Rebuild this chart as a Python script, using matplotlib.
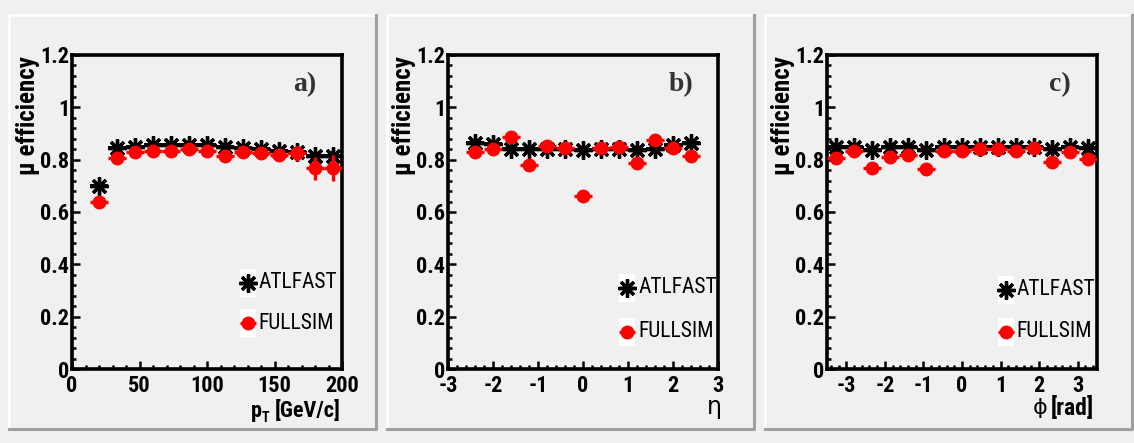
"""Muon efficiency vs pT, eta and phi: ATLFAST compared with FULLSIM."""

import matplotlib
matplotlib.use("Agg")
import matplotlib.pyplot as plt
from matplotlib import font_manager
from matplotlib.font_manager import FontProperties
from matplotlib.patches import Rectangle
from matplotlib.ticker import MultipleLocator, FormatStrFormatter

# ---- data ----
pt_centers = [20.0, 33.3, 46.7, 60.0, 73.3, 86.7, 100.0, 113.3, 126.7, 140.0, 153.3, 166.7, 180.0, 193.3]
pt_halfwidth = 6.67
pt_atlfast = [0.70, 0.845, 0.85, 0.855, 0.855, 0.855, 0.855, 0.85, 0.845, 0.84, 0.835, 0.83, 0.815, 0.815]
pt_atlfast_err = [0.015, 0.005, 0.005, 0.005, 0.005, 0.005, 0.005, 0.006, 0.007, 0.008, 0.01, 0.012, 0.015, 0.018]
pt_fullsim = [0.64, 0.805, 0.828, 0.833, 0.833, 0.84, 0.833, 0.814, 0.828, 0.824, 0.819, 0.824, 0.767, 0.767]
pt_fullsim_err = [0.015, 0.012, 0.01, 0.01, 0.01, 0.01, 0.012, 0.014, 0.016, 0.018, 0.022, 0.03, 0.045, 0.05]

eta_centers = [-2.4, -2.0, -1.6, -1.2, -0.8, -0.4, 0.0, 0.4, 0.8, 1.2, 1.6, 2.0, 2.4]
eta_halfwidth = 0.2
eta_atlfast = [0.865, 0.86, 0.84, 0.84, 0.84, 0.84, 0.838, 0.84, 0.84, 0.838, 0.84, 0.855, 0.865]
eta_fullsim = [0.83, 0.84, 0.888, 0.78, 0.852, 0.843, 0.661, 0.843, 0.85, 0.786, 0.877, 0.843, 0.814]
eta_fullsim_err = [0.01] * 13

phi_centers = [-3.27, -2.8, -2.33, -1.87, -1.4, -0.93, -0.47, 0.0, 0.47, 0.93, 1.4, 1.87, 2.33, 2.8, 3.27]
phi_halfwidth = 0.233
phi_atlfast = [0.848, 0.85, 0.838, 0.85, 0.848, 0.837, 0.848, 0.85, 0.85, 0.85, 0.85, 0.85, 0.84, 0.85, 0.845]
phi_fullsim = [0.805, 0.834, 0.77, 0.812, 0.818, 0.763, 0.833, 0.834, 0.84, 0.84, 0.834, 0.843, 0.79, 0.83, 0.802]
phi_fullsim_err = [0.01] * 15

series_labels = ["ATLFAST", "FULLSIM"]
panel_tags = ["a)", "b)", "c)"]
y_title = "\u03bc efficiency"


# ---- fonts: look for a narrow sans, else fall back to Liberation Sans ----
def _is_bold(entry):
    w = entry.weight
    if isinstance(w, str):
        w = font_manager.weight_dict.get(w, 400)
    return w >= 600


def _narrow_file(bold):
    hits = []
    for f in font_manager.fontManager.ttflist:
        n = f.name
        if "Serif" in n or "Mono" in n or f.style != "normal":
            continue
        if ("Narrow" in n or "Condensed" in n or str(f.stretch) in ("condensed", "semi-condensed")) \
                and _is_bold(f) == bold:
            hits.append(f)
    order = ["Liberation Sans Narrow", "Roboto Condensed", "DejaVu Sans"]
    hits.sort(key=lambda f: order.index(f.name) if f.name in order else len(order))
    return hits[0].fname if hits else None


NARROW = {True: _narrow_file(True), False: _narrow_file(False)}


def font(size, bold=True):
    path = NARROW[bold]
    if path:
        return FontProperties(fname=path, size=size)
    return FontProperties(family="Liberation Sans", weight="bold" if bold else "normal", size=size)


plt.rcParams["font.family"] = ["Liberation Sans", "DejaVu Sans"]
scale = 1.0 if NARROW[True] else 0.85

BG = "#f0f0f0"
fig = plt.figure(figsize=(11.34, 4.43), dpi=100, facecolor=BG)

# pads with ROOT style bevel
pad_lefts = [9, 387, 765]
for px in pad_lefts:
    x0, y0 = px / 1134, 14 / 443
    w, h = 367 / 1134, 414 / 443
    fig.add_artist(plt.Line2D([x0, x0, x0 + w], [y0, y0 + h, y0 + h], transform=fig.transFigure,
                              color="white", lw=1.8, zorder=-1))
    fig.add_artist(plt.Line2D([x0, x0 + w, x0 + w], [y0, y0, y0 + h], transform=fig.transFigure,
                              color="#a0a0a0", lw=2.2, zorder=-1))

axes_lefts = [72, 448, 827]
panels = [
    (pt_centers, pt_halfwidth, pt_atlfast, pt_atlfast_err, pt_fullsim, pt_fullsim_err, (0, 200), 50, 10),
    (eta_centers, eta_halfwidth, eta_atlfast, None, eta_fullsim, eta_fullsim_err, (-3, 3), 1, 0.2),
    (phi_centers, phi_halfwidth, phi_atlfast, None, phi_fullsim, phi_fullsim_err, (-3.5, 3.5), 1, 0.2),
]
legend_pos = [(0.652, 0.274, 0.146), (0.664, 0.258, 0.118), (0.662, 0.252, 0.118)]
STAR = (8, 2, 0)

for i, (x, hw, ya, ya_err, yf, yf_err, xlim, major, minor) in enumerate(panels):
    ax = fig.add_axes([axes_lefts[i] / 1134, 74 / 443, 270 / 1134, 314 / 443])
    ax.set_facecolor(BG)

    ax.errorbar(x, ya, xerr=hw, yerr=ya_err, fmt="none", ecolor="black", elinewidth=2.8, capsize=0, zorder=2)
    ax.plot(x, ya, linestyle="none", marker=STAR, markersize=13, mew=2.4, color="black", zorder=3)
    ax.errorbar(x, yf, xerr=hw, yerr=yf_err, fmt="none", ecolor="red", elinewidth=2.4, capsize=0, zorder=4)
    ax.plot(x, yf, linestyle="none", marker="o", markersize=9, color="red", mec="red", zorder=5)

    ax.set_xlim(*xlim)
    ax.set_ylim(0, 1.2)
    ax.xaxis.set_major_locator(MultipleLocator(major))
    ax.xaxis.set_minor_locator(MultipleLocator(minor))
    ax.yaxis.set_major_locator(MultipleLocator(0.2))
    ax.yaxis.set_minor_locator(MultipleLocator(0.04))
    ax.yaxis.set_major_formatter(FormatStrFormatter("%g"))
    ax.xaxis.set_major_formatter(FormatStrFormatter("%g"))
    ax.tick_params(which="both", direction="in", top=False, right=False, width=1.8)
    ax.tick_params(axis="y", pad=2)
    ax.tick_params(axis="x", pad=4)
    ax.tick_params(which="major", length=6)
    ax.tick_params(which="minor", length=3)
    for lab in ax.get_xticklabels() + ax.get_yticklabels():
        lab.set_fontproperties(font(16 * scale))
    for sp in ax.spines.values():
        sp.set_linewidth(2.6)

    ax.text(-0.163, 0.995, y_title, transform=ax.transAxes, rotation=90, ha="center", va="top",
            fontproperties=font(18 * scale))
    ax.text(0.863, 0.905, panel_tags[i], transform=ax.transAxes, ha="center", va="center",
            fontsize=20, fontweight="bold", family=["Liberation Serif", "DejaVu Serif"], color="#333333")

    # legend
    lx, ly1, ly2 = legend_pos[i]
    for ly, marker, ms, col in [(ly1, STAR, 13, "black"), (ly2, "o", 9, "red")]:
        ax.add_patch(Rectangle((lx - 0.03, ly - 0.045), 0.06, 0.09, transform=ax.transAxes,
                               facecolor="white", edgecolor="none", zorder=6))
        ax.plot([lx], [ly], transform=ax.transAxes, marker=marker, markersize=ms,
                mew=2.4 if col == "black" else 1, color=col, linestyle="none", zorder=7)
        ax.plot([lx - 0.03, lx + 0.03], [ly, ly], transform=ax.transAxes, color=col, lw=2.4,
                zorder=6.5, solid_capstyle="butt")
    for ly, lab in zip((ly1, ly2), series_labels):
        ax.text(lx + 0.04, ly, lab, transform=ax.transAxes, ha="left", va="center",
                fontproperties=font(15.5 * scale, bold=False), zorder=8)

    if i == 0:
        unit = ax.text(0.995, -0.135, "[GeV/c]", transform=ax.transAxes, ha="right", va="center",
                       fontproperties=font(16 * scale))
        sub = ax.annotate("T", xy=(0, 0.5), xycoords=unit, xytext=(-4, -5),
                          textcoords="offset points", ha="right", va="center", fontproperties=font(10 * scale))
        ax.annotate("p", xy=(0, 0.5), xycoords=sub, xytext=(0, 5),
                    textcoords="offset points", ha="right", va="center", fontproperties=font(16 * scale))
    elif i == 1:
        ax.text(0.985, -0.12, "\u03b7", transform=ax.transAxes, ha="center", va="center",
                fontsize=17, family=["DejaVu Sans"])
    else:
        unit = ax.text(0.99, -0.125, "[rad]", transform=ax.transAxes, ha="right", va="center",
                       fontproperties=font(17 * scale))
        ax.annotate("\u03d5", xy=(0, 0.5), xycoords=unit, xytext=(-3, 0),
                    textcoords="offset points", ha="right", va="center", fontsize=16, family=["DejaVu Sans"])

fig.savefig("out.png", dpi=100, facecolor=BG)
